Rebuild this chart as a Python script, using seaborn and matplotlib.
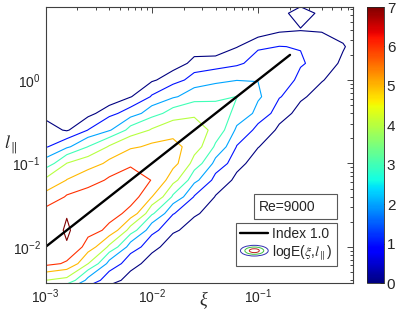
import numpy as np
import matplotlib
matplotlib.use('Agg')
import matplotlib.pyplot as plt
import seaborn as sns
from matplotlib.legend_handler import HandlerBase
from matplotlib.patches import Ellipse, Rectangle
from matplotlib.ticker import LogLocator, NullFormatter

# grid nodes of the histogram (log10 of xi and of l_par)
log_xi = [-3.0, -2.8, -2.6, -2.4, -2.2, -2.0, -1.8, -1.6, -1.4, -1.2, -1.0, -0.8, -0.6, -0.4, -0.2, 0.0]
log_l = [-2.6, -2.4, -2.2, -2.0, -1.8, -1.6, -1.4, -1.2, -1.0, -0.8, -0.6, -0.4, -0.2,
         0.0, 0.2, 0.4, 0.6, 0.8, 1.0]

# logE, one column per log_xi node (bottom -> top), -1 = empty bin
logE_cols = [
    [1.3, 4.0, 6.3, 6.5, 6.6, 6.35, 5.32, 4.18, 2.44, 0.91, 0.32, -0.26, -1, -1, -1, -1, -1, -1, -1],
    [0.98, 3.71, 5.85, 6.95, 7.1, 6.95, 6.1, 5.03, 4.03, 1.83, -0.1, -1, -1, -1, -1, -1, -1, -1, -1],
    [-0.05, 1.67, 4.02, 5.55, 6.4, 6.6, 6.4, 5.6, 4.56, 3.02, 1.02, -0.33, -1, -1, -1, -1, -1, -1, -1],
    [-0.8, 0.4, 1.63, 3.8, 5.75, 6.4, 6.5, 6.15, 5.23, 4.12, 1.9, 0.73, -1, -1, -1, -1, -1, -1, -1],
    [-1, -0.4, 0.4, 1.5, 3.55, 5.67, 6.5, 6.3, 5.9, 4.85, 3.4, 1.5, -0.05, -1, -1, -1, -1, -1, -1],
    [-1, -1, -0.5, 0.37, 1.3, 3.17, 5.02, 5.98, 5.8, 5.2, 4.1, 2.6, 1.1, -0.15, -1, -1, -1, -1, -1],
    [-1, -1, -1, -0.7, 0.2, 1.05, 2.83, 4.38, 5.35, 5.3, 4.6, 3.47, 1.87, 0.63, -0.6, -1, -1, -1, -1],
    [-1, -1, -1, -1, -0.6, 0.19, 0.93, 2.29, 3.6, 4.5, 4.45, 3.83, 2.56, 1.4, 0.37, -0.7, -1, -1, -1],
    [-1, -1, -1, -1, -1, -0.7, -0.05, 0.64, 1.67, 2.83, 3.7, 3.5, 2.76, 1.75, 0.5, -0.8, -1, -1, -1],
    [-1, -1, -1, -1, -1, -1, -1, -0.25, 0.35, 0.95, 1.78, 2.75, 3.02, 1.97, 0.8, -0.05, -1, -1, -1],
    [-1, -1, -1, -1, -1, -1, -1, -1, -0.6, 0.05, 0.67, 1.67, 2.15, 1.98, 1.5, 0.83, -0.8, -1, -1],
    [-1, -1, -1, -1, -1, -1, -1, -1, -1, -1, -0.2, 0.45, 1.07, 1.6, 1.65, 1.02, -0.2, -0.3, -1],
    [-1, -1, -1, -1, -1, -1, -1, -1, -1, -1, -1, -0.4, 0.2, 0.7, 1.12, 0.95, -0.05, 0.5, -1],
    [-1, -1, -1, -1, -1, -1, -1, -1, -1, -1, -1, -1, -0.6, 0.1, 0.5, 0.5, -0.1, -0.3, -1],
    [-1, -1, -1, -1, -1, -1, -1, -1, -1, -1, -1, -1, -1, -1, -0.2, 0.1, -0.5, -1, -1],
    [-1, -1, -1, -1, -1, -1, -1, -1, -1, -1, -1, -1, -1, -1, -1, -1, -1, -1, -1],
]
levels = [0, 1, 2, 3, 4, 5, 6, 7]
cbar_ticks = [0, 1, 2, 3, 4, 5, 6, 7]

# index 1.0 reference line
index_xi = [1e-3, 0.2]
index_l = [1e-2, 2.0]

sns.set_style('white')
plt.rcParams['font.family'] = ['Liberation Sans', 'DejaVu Sans']
plt.rcParams['mathtext.default'] = 'regular'

fig = plt.figure(figsize=(4.07, 3.14), dpi=100)
ax = fig.add_axes([0.1118, 0.0997, 0.7555, 0.877])
cax = fig.add_axes([0.9017, 0.0987, 0.0418, 0.879])

ax.set_xscale('log')
ax.set_yscale('log')

XI, LL = np.meshgrid(10.0 ** np.array(log_xi), 10.0 ** np.array(log_l))
Z = np.array(logE_cols).T
ax.contour(XI, LL, Z, levels=levels, cmap='jet', vmin=0, vmax=7, linewidths=0.8)

sns.lineplot(x=index_xi, y=index_l, color='k', lw=1.7, ax=ax, legend=False)
index_line = ax.lines[-1]

ax.set_xlim(1e-3, 0.783)
ax.set_ylim(0.00373, 7.43)
for axis in [ax.xaxis, ax.yaxis]:
    axis.set_major_locator(LogLocator(base=10, numticks=10))
    axis.set_minor_locator(LogLocator(base=10, subs=np.arange(2, 10), numticks=10))
    axis.set_minor_formatter(NullFormatter())
ax.tick_params(which='both', direction='in', top=True, right=True, labelsize=10, width=0.6)
ax.tick_params(which='major', length=4)
ax.tick_params(which='minor', length=2)
for s in ax.spines.values():
    s.set_linewidth(0.8)
    s.set_color('0.25')

ax.set_xlabel('ξ', fontfamily='Liberation Serif', fontstyle='italic', fontsize=13, va='center')
ax.xaxis.set_label_coords(0.512, -0.06)
ax.set_ylabel(r'$\mathit{l}_{\parallel}$', rotation=0, fontsize=13, va='center', ha='center',
              math_fontfamily='stix')
ax.yaxis.set_label_coords(-0.112, 0.50)

# colorbar
sm = plt.cm.ScalarMappable(norm=plt.Normalize(0, 7), cmap='jet')
cb = fig.colorbar(sm, cax=cax, ticks=cbar_ticks)
cb.outline.set_linewidth(0.6)
cax.tick_params(direction='in', length=3, labelsize=11, pad=2, width=0.6)

# Re box
ax.add_patch(Rectangle((0.678, 0.231), 0.270, 0.091, transform=ax.transAxes,
                       fc='white', ec='0.35', lw=0.8, zorder=5))
ax.text(0.693, 0.2765, 'Re=9000', transform=ax.transAxes, va='center', ha='left', fontsize=10, zorder=6)


class ContourKey:
    pass


class EllipseHandler(HandlerBase):
    def create_artists(self, legend, orig_handle, xdescent, ydescent, width, height, fontsize, trans):
        cx = 0.5 * width - xdescent
        cy = 0.5 * height - ydescent
        out = []
        for f, c in zip([1.0, 0.68, 0.36], ['#3030b0', '#40c040', '#c02020']):
            out.append(Ellipse((cx, cy), width * f, height * 1.1 * f, fill=False,
                               edgecolor=c, lw=0.7, transform=trans))
        return out


leg = ax.legend([index_line, ContourKey()], ['Index 1.0', r'logE($\mathit{\xi}$,$\mathit{l}_{\parallel}$)'],
                handler_map={ContourKey: EllipseHandler()}, loc='lower right',
                bbox_to_anchor=(0.948, 0.061), bbox_transform=ax.transAxes, borderaxespad=0,
                fancybox=False, edgecolor='0.35', framealpha=1, fontsize=10,
                handlelength=2.0, handletextpad=0.3, borderpad=0.3, labelspacing=0.15)
leg.get_frame().set_linewidth(0.8)
for t in leg.get_texts():
    t.set_math_fontfamily('stix')

fig.savefig('out.png', dpi=100)
